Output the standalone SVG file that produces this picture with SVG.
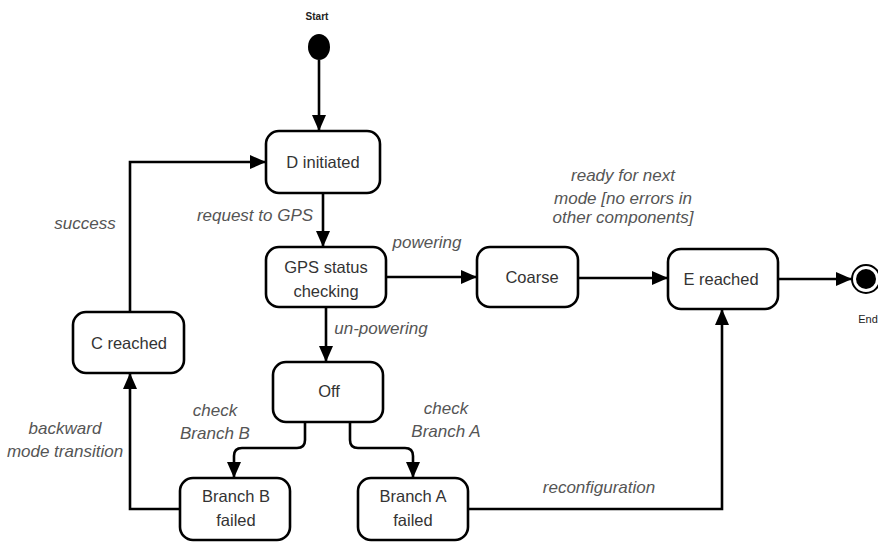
<svg xmlns="http://www.w3.org/2000/svg" width="878" height="542" viewBox="0 0 878 542">
  <style>
    .state { fill: #ffffff; stroke: #000000; stroke-width: 2.6; }
    .name { font-family: "Liberation Sans", Arial, sans-serif; font-size: 16.5px; fill: #333333; text-anchor: middle; }
    .edge { fill: none; stroke: #000000; stroke-width: 2.6; }
    .lbl { font-family: "Liberation Sans", Arial, sans-serif; font-size: 17px; font-style: italic; fill: #555555; text-anchor: middle; }
    .tiny { font-family: "Liberation Sans", Arial, sans-serif; font-size: 10px; font-weight: bold; fill: #222222; text-anchor: middle; }
  </style>
  <defs>
    <marker id="arrow" viewBox="0 0 16 14" refX="16" refY="7" markerWidth="16" markerHeight="14" markerUnits="userSpaceOnUse" orient="auto">
      <path d="M0,0 L16,7 L0,14 Z" fill="#000000"/>
    </marker>
  </defs>
  <rect width="878" height="542" fill="#ffffff"/>

  <g id="connectors">
    <path class="edge" d="M319,60 L319,131" marker-end="url(#arrow)"/>
    <path class="edge" d="M323,193 L323,247" marker-end="url(#arrow)"/>
    <path class="edge" d="M386,277 L477,277" marker-end="url(#arrow)"/>
    <path class="edge" d="M578,278 L668,278" marker-end="url(#arrow)"/>
    <path class="edge" d="M778,279 L852,279" marker-end="url(#arrow)"/>
    <path class="edge" d="M326,307 L326,362" marker-end="url(#arrow)"/>
    <path class="edge" d="M305,422 L305,440 Q305,448 297,448 L242,448 Q234,448 234,456 L234,478" marker-end="url(#arrow)"/>
    <path class="edge" d="M350,422 L350,440 Q350,448 358,448 L405,448 Q413,448 413,456 L413,478" marker-end="url(#arrow)"/>
    <path class="edge" d="M180,509 L130,509 L130,373" marker-end="url(#arrow)"/>
    <path class="edge" d="M130,312 L130,162 L266,162" marker-end="url(#arrow)"/>
    <path class="edge" d="M468,509 L722,509 L722,309" marker-end="url(#arrow)"/>
    <text class="lbl" x="255" y="221">request to GPS</text>
    <text class="lbl" x="427" y="248">powering</text>
    <text class="lbl" x="623" y="181">ready for next</text>
    <text class="lbl" x="623" y="204">mode [no errors in</text>
    <text class="lbl" x="623" y="223">other components]</text>
    <text class="lbl" x="381" y="334">un-powering</text>
    <text class="lbl" x="215" y="416">check</text>
    <text class="lbl" x="215" y="439">Branch B</text>
    <text class="lbl" x="446" y="414">check</text>
    <text class="lbl" x="446" y="437">Branch A</text>
    <text class="lbl" x="85" y="229">success</text>
    <text class="lbl" x="65" y="434">backward</text>
    <text class="lbl" x="65" y="457">mode transition</text>
    <text class="lbl" x="599" y="493">reconfiguration</text>
  </g>

  <g id="start">
    <text class="tiny" x="317" y="20">Start</text>
    <ellipse cx="319" cy="47" rx="11" ry="13" fill="#000000"/>
  </g>

  <g id="d-initiated">
    <rect class="state" x="266" y="131" width="114" height="62" rx="13"/>
    <text class="name" x="323" y="168">D initiated</text>
  </g>

  <g id="gps-status-checking">
    <rect class="state" x="266" y="247" width="120" height="60" rx="13"/>
    <text class="name" x="326" y="273">GPS status</text>
    <text class="name" x="326" y="297">checking</text>
  </g>

  <g id="coarse">
    <rect class="state" x="477" y="247" width="101" height="60" rx="13"/>
    <text class="name" x="532" y="283">Coarse</text>
  </g>

  <g id="e-reached">
    <rect class="state" x="668" y="249" width="110" height="60" rx="13"/>
    <text class="name" x="721" y="285">E reached</text>
  </g>

  <g id="end">
    <circle cx="866" cy="279" r="14" fill="#ffffff" stroke="#000000" stroke-width="2"/>
    <circle cx="866" cy="279" r="10" fill="#000000"/>
    <text class="tiny" x="868" y="323" style="font-weight:normal;font-size:11px">End</text>
  </g>

  <g id="off">
    <rect class="state" x="273" y="362" width="110" height="60" rx="13"/>
    <text class="name" x="329" y="397">Off</text>
  </g>

  <g id="branch-b-failed">
    <rect class="state" x="180" y="478" width="110" height="62" rx="13"/>
    <text class="name" x="236" y="502">Branch B</text>
    <text class="name" x="236" y="526">failed</text>
  </g>

  <g id="branch-a-failed">
    <rect class="state" x="358" y="478" width="110" height="62" rx="13"/>
    <text class="name" x="413" y="502">Branch A</text>
    <text class="name" x="413" y="526">failed</text>
  </g>

  <g id="c-reached">
    <rect class="state" x="73" y="312" width="111" height="61" rx="13"/>
    <text class="name" x="129" y="349">C reached</text>
  </g>
</svg>
